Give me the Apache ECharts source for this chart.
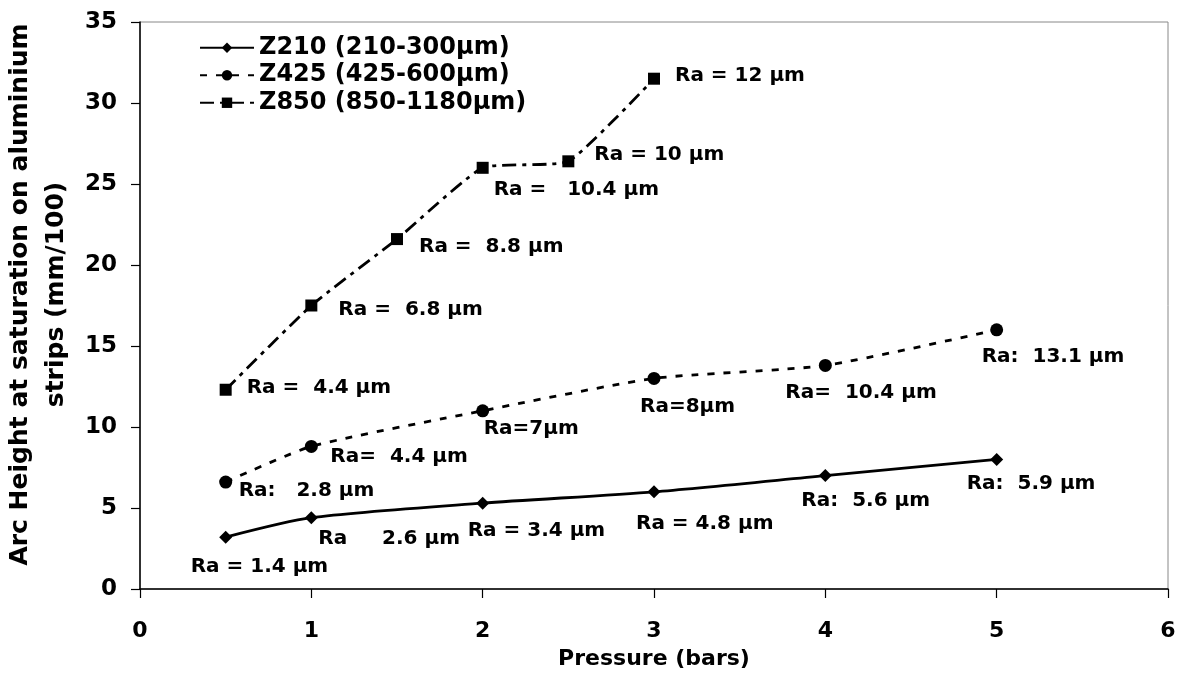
<!DOCTYPE html>
<html>
<head>
<meta charset="utf-8">
<script src="https://cdn.jsdelivr.net/npm/echarts@6/dist/echarts.min.js"></script>
<style>
html,body{margin:0;padding:0;background:#fff;}
#chart{width:1179px;height:690px;}
</style>
</head>
<body>
<div id="chart"></div>
<script>
// ---- data ----
const seriesNames = ['Z210 (210-300µm)', 'Z425 (425-600µm)', 'Z850 (850-1180µm)'];
const z210X = [0.5, 1, 2, 3, 4, 5];
const z210Y = [3.2, 4.4, 5.3, 6.0, 7.0, 8.0];
const z210Ra = ['Ra = 1.4 µm', 'Ra     2.6 µm', 'Ra = 3.4 µm', 'Ra = 4.8 µm', 'Ra:  5.6 µm', 'Ra:  5.9 µm'];
const z425X = [0.5, 1, 2, 3, 4, 5];
const z425Y = [6.6, 8.8, 11.0, 13.0, 13.8, 16.0];
const z425Ra = ['Ra:   2.8 µm', 'Ra=  4.4 µm', 'Ra=7µm', 'Ra=8µm', 'Ra=  10.4 µm', 'Ra:  13.1 µm'];
const z850X = [0.5, 1, 1.5, 2, 2.5, 3];
const z850Y = [12.3, 17.5, 21.6, 26.0, 26.4, 31.5];
const z850Ra = ['Ra =  4.4 µm', 'Ra =  6.8 µm', 'Ra =  8.8 µm', 'Ra =   10.4 µm', 'Ra = 10 µm', 'Ra = 12 µm'];
const xTicks = [0, 1, 2, 3, 4, 5, 6];
const yTicks = [0, 5, 10, 15, 20, 25, 30, 35];

// ---- label placement (style only) ----
const z210Off = [[-35, 30], [7, 21], [-15, 28], [-18, 32], [-24, 25], [-30, 24]];
const z425Off = [[13, 9], [19, 10], [1, 18], [-14, 28], [-40, 27], [-15, 27]];
const z850Off = [[21, -2], [27, 4], [22, 8], [11, 22], [26, -7], [21, -3]];

const FONT = 'DejaVu Sans';

function build(xs, ys, texts, offs) {
  return xs.map((x, i) => ({
    value: [x, ys[i]],
    label: {
      show: true,
      formatter: texts[i],
      position: 'inside',
      align: 'left',
      verticalAlign: 'middle',
      offset: offs[i],
      color: '#000',
      fontFamily: FONT,
      fontWeight: 'bold',
      fontSize: 20
    }
  }));
}

const chart = echarts.init(document.getElementById('chart'), null, {renderer: 'canvas'});
chart.setOption({
  animation: false,
  backgroundColor: '#fff',
  grid: {
    left: 140, right: 11, top: 22, bottom: 101,
    show: true, borderColor: '#888', borderWidth: 1,
    containLabel: false, outerBoundsMode: 'none'
  },
  legend: {
    orient: 'vertical',
    left: 194, top: 29,
    itemWidth: 54, itemHeight: 13, itemGap: 0,
    data: seriesNames,
    textStyle: {fontFamily: FONT, fontWeight: 'bold', fontSize: 24, color: '#000', lineHeight: 27.5}
  },
  xAxis: {
    type: 'value', min: xTicks[0], max: xTicks[xTicks.length - 1], interval: 1,
    name: 'Pressure (bars)', nameLocation: 'middle', nameGap: 59,
    nameTextStyle: {fontFamily: FONT, fontWeight: 'bold', fontSize: 22, color: '#000'},
    axisLine: {show: true, lineStyle: {color: '#000', width: 1.5}},
    axisTick: {show: true, inside: false, length: 9, lineStyle: {color: '#000', width: 1.2}},
    axisLabel: {margin: 31, fontFamily: FONT, fontWeight: 'bold', fontSize: 22, color: '#000'},
    splitLine: {show: false}
  },
  yAxis: {
    type: 'value', min: yTicks[0], max: yTicks[yTicks.length - 1], interval: 5,
    name: 'Arc Height at saturation on aluminium\nstrips (mm/100)',
    nameLocation: 'middle', nameGap: 61, nameRotate: 90,
    nameTextStyle: {fontFamily: FONT, fontWeight: 'bold', fontSize: 25, color: '#000', lineHeight: 36, padding: [0, 0, 0, 22], align: 'center'},
    axisLine: {show: true, lineStyle: {color: '#000', width: 1.5}},
    axisTick: {show: true, inside: false, length: 9, lineStyle: {color: '#000', width: 1.2}},
    axisLabel: {margin: 23, fontFamily: FONT, fontWeight: 'bold', fontSize: 23, color: '#000'},
    splitLine: {show: false}
  },
  series: [
    {
      name: seriesNames[0], type: 'line', smooth: 0.25,
      symbol: 'diamond', symbolSize: 13,
      itemStyle: {color: '#000'},
      lineStyle: {color: '#000', width: 2.8, type: 'solid'},
      data: build(z210X, z210Y, z210Ra, z210Off)
    },
    {
      name: seriesNames[1], type: 'line', smooth: 0.2,
      symbol: 'circle', symbolSize: 13,
      itemStyle: {color: '#000'},
      lineStyle: {color: '#000', width: 2.8, type: [7, 9]},
      data: build(z425X, z425Y, z425Ra, z425Off)
    },
    {
      name: seriesNames[2], type: 'line', smooth: 0.15,
      symbol: 'rect', symbolSize: 12,
      itemStyle: {color: '#000'},
      lineStyle: {color: '#000', width: 2.8, type: [14, 6, 4, 6]},
      data: build(z850X, z850Y, z850Ra, z850Off)
    }
  ]
});
</script>
</body>
</html>
